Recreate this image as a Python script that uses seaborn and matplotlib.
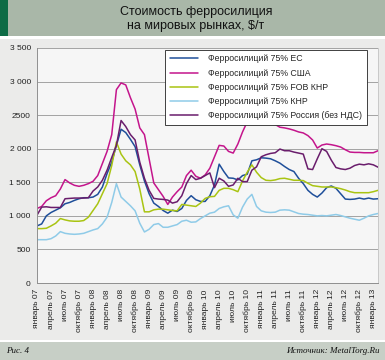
import numpy as np
import pandas as pd
import matplotlib
matplotlib.use('Agg')
import matplotlib.pyplot as plt
import seaborn as sns
from matplotlib.patches import Rectangle

# ----
# Data
# ----
months = list(range(74))  # январь 07 ... февраль 13

eu = [850, 880, 1000, 1050, 1085, 1120, 1180, 1200, 1230, 1255, 1270, 1270, 1280, 1320, 1430, 1630,
      1800, 2050, 2290, 2240, 2140, 2030, 1760, 1520, 1330, 1190, 1140, 1080, 1040, 1085, 1065, 1110,
      1230, 1300, 1240, 1215, 1215, 1300, 1460, 1770, 1660, 1565, 1560, 1535, 1600, 1620, 1820, 1835,
      1865, 1860, 1850, 1820, 1785, 1735, 1690, 1660, 1560, 1480, 1380, 1320, 1280, 1340, 1420, 1445,
      1410, 1330, 1250, 1245, 1250, 1265, 1250, 1265, 1250, 1255]
usa = [1110, 1140, 1225, 1270, 1300, 1400, 1540, 1490, 1455, 1440, 1455, 1480, 1515, 1600, 1780, 1960,
       2210, 2880, 2980, 2950, 2760, 2590, 2310, 2210, 1850, 1490, 1390, 1290, 1170, 1280, 1360, 1430,
       1600, 1680, 1590, 1560, 1610, 1710, 1880, 2050, 2040, 1960, 1935, 2070, 2250, 2400, 2465, 2465,
       2410, 2385, 2370, 2360, 2320, 2310, 2295, 2275, 2250, 2235, 2195, 2130, 2010, 2055, 2070, 2060,
       2045, 2025, 1985, 1950, 1945, 1945, 1940, 1940, 1940, 1970]
fob_china = [810, 810, 815, 850, 890, 960, 940, 925, 920, 920, 930, 980, 1080, 1180, 1330, 1480,
             1750, 2100, 1920, 1820, 1760, 1660, 1400, 1060, 1060, 1090, 1100, 1100, 1090, 1080, 1075, 1170,
             1160, 1150, 1140, 1190, 1260, 1285, 1290, 1380, 1410, 1410, 1390, 1360, 1520, 1650, 1760, 1650,
             1570, 1530, 1525, 1535, 1555, 1560, 1545, 1530, 1530, 1525, 1485, 1450, 1440, 1430, 1430, 1430,
             1420, 1405, 1385, 1360, 1345, 1345, 1345, 1345, 1360, 1380]
china = [645, 645, 645, 660, 700, 765, 740, 730, 725, 730, 740, 765, 790, 810, 880, 980,
         1200, 1480, 1280, 1215, 1150, 1075, 890, 760, 800, 870, 885, 830, 830, 850, 870, 920,
         935, 905, 910, 960, 1000, 1040, 1055, 1110, 1135, 1150, 1015, 965, 1130, 1250, 1320, 1140,
         1075, 1055, 1050, 1055, 1085, 1090, 1085, 1060, 1035, 1025, 1020, 1010, 1000, 1005, 1000, 1010,
         1020, 1005, 985, 965, 950, 935, 965, 1000, 1020, 1035]
russia = [1010, 1130, 1135, 1125, 1125, 1125, 1255, 1260, 1265, 1265, 1265, 1270, 1370, 1430, 1530, 1680,
          1870, 2050, 2420, 2330, 2210, 2130, 1800, 1560, 1380, 1260, 1250, 1245, 1235, 1190, 1210, 1300,
          1480, 1600, 1540, 1560, 1600, 1640, 1420, 1560, 1520, 1440, 1460, 1560, 1510, 1510, 1680, 1730,
          1880, 1910, 1930, 1940, 1995, 1970, 1970, 1950, 1935, 1920, 1700, 1690, 1850, 2000, 1960, 1830,
          1720, 1700, 1690, 1710, 1750, 1770, 1760, 1775, 1760, 1725]

series_names = ['Ферросилиций 75% ЕС', 'Ферросилиций 75% США', 'Ферросилиций 75% FOB КНР',
                'Ферросилиций 75% КНР', 'Ферросилиций 75% Россия (без НДС)']
series_colors = ['#1f4f9a', '#c4158c', '#a9c412', '#8fcbe8', '#6a1d6c']

x_tick_pos = list(range(0, 73, 3))
x_tick_labels = ['январь 07', 'апрель 07', 'июль 07', 'октябрь 07',
                 'январь 08', 'апрель 08', 'июль 08', 'октябрь 08',
                 'январь 09', 'апрель 09', 'июль 09', 'октябрь 09',
                 'январь 10', 'апрель 10', 'июль 10', 'октябрь 10',
                 'январь 11', 'апрель 11', 'июль 11', 'октябрь 11',
                 'январь 12', 'апрель 12', 'июль 12', 'октябрь 12',
                 'январь 13']
y_tick_pos = [0, 500, 1000, 1500, 2000, 2500, 3000, 3500]
y_tick_labels = ['0', '500', '1 000', '1 500', '2 000', '2500', '3 000', '3 500']

title = 'Стоимость ферросилиция\nна мировых рынках, $/т'

# -------
# Compute
# -------
df = pd.DataFrame({'month': months})
for name, vals in zip(series_names, [eu, usa, fob_china, china, russia]):
    df[name] = vals
long = df.melt(id_vars='month', var_name='series', value_name='price')

sns.set_style('white')
plt.rcParams['font.family'] = ['Liberation Sans', 'DejaVu Sans']

fig = plt.figure(figsize=(3.85, 3.6), dpi=100)
fig.patch.set_facecolor('#ebebea')

# header / footer bands
fig.patches.append(Rectangle((0, 1 - 36 / 360), 1, 36 / 360, transform=fig.transFigure,
                             facecolor='#a9b7a8', edgecolor='none', zorder=0))
fig.patches.append(Rectangle((0, 1 - 36 / 360), 8 / 385, 36 / 360, transform=fig.transFigure,
                             facecolor='#0d6b45', edgecolor='none', zorder=1))
fig.patches.append(Rectangle((0, 1 - 39 / 360), 1, 3 / 360, transform=fig.transFigure,
                             facecolor='white', edgecolor='none', zorder=1))
fig.patches.append(Rectangle((0, 0), 1, 18 / 360, transform=fig.transFigure,
                             facecolor='#c7cfc6', edgecolor='none', zorder=0))
fig.patches.append(Rectangle((0, 18 / 360), 1, 2 / 360, transform=fig.transFigure,
                             facecolor='white', edgecolor='none', zorder=1))

fig.text(196 / 385, 1 - 19 / 360, title, ha='center', va='center', fontsize=9,
         color='#111111', linespacing=1.3)
fig.text(6 / 385, 9 / 360, 'Рис. 4', ha='left', va='center', fontsize=6.5,
         family='Liberation Serif', style='italic', color='#111111')
fig.text(380 / 385, 9 / 360, 'Источник: MetalTorg.Ru', ha='right', va='center', fontsize=6.5,
         family='Liberation Serif', style='italic', color='#111111')

ax = fig.add_axes([37 / 385, 1 - 283 / 360, 341 / 385, 235 / 360])
ax.set_facecolor('#f6f6f6')

sns.lineplot(data=long, x='month', y='price', hue='series', hue_order=series_names,
             palette=dict(zip(series_names, series_colors)), linewidth=1.1, ax=ax)

ax.set_xlim(0, 73)
ax.set_ylim(0, 3500)
ax.set_yticks(y_tick_pos)
ax.set_yticklabels(y_tick_labels)
ax.set_xticks(x_tick_pos)
ax.set_xticklabels(x_tick_labels, rotation=90)
ax.set_xlabel('')
ax.set_ylabel('')
ax.grid(axis='y', color='#a3a3a3', linewidth=0.7)
ax.set_axisbelow(True)
ax.tick_params(axis='both', labelsize=6, colors='#222222', length=2.5, width=0.6, pad=2)
ax.tick_params(axis='x', direction='out', color='#777777')
ax.tick_params(axis='y', direction='out', color='#a3a3a3')
for side in ['left', 'bottom', 'right']:
    ax.spines[side].set_color('#8f8f8f')
    ax.spines[side].set_linewidth(0.7)
ax.spines['right'].set_color('#c8c8c8')
ax.spines['top'].set_visible(False)

handles, labels = ax.get_legend_handles_labels()
leg = ax.legend(handles, labels, loc='upper right', bbox_to_anchor=(0.968, 0.993),
                fontsize=6.3, frameon=True, fancybox=False, framealpha=1,
                edgecolor='#222222', handlelength=3.2, handletextpad=1.2,
                borderpad=0.55, labelspacing=0.6, borderaxespad=0)
leg.get_frame().set_linewidth(0.6)
leg.get_frame().set_facecolor('white')

fig.savefig('out.png', dpi=100, facecolor=fig.get_facecolor())
